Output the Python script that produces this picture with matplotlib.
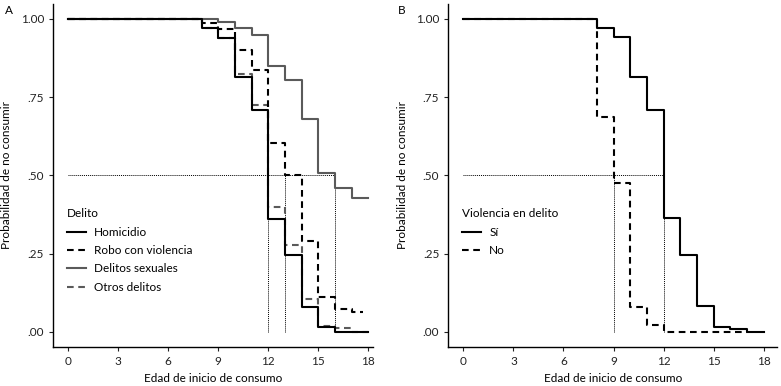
import numpy as np
import matplotlib.pyplot as plt

plt.rcParams['font.family'] = ['Lato', 'DejaVu Sans']

# Panel A: Delito
t_hom = [0, 8, 9, 10, 11, 12, 13, 14, 15, 16, 18]
s_hom = [1.0, 0.97, 0.94, 0.815, 0.708, 0.36, 0.245, 0.08, 0.016, 0.0, 0.0]
t_robo = [0, 8, 9, 10, 11, 12, 13, 14, 15, 16, 17, 17.7]
s_robo = [1.0, 0.988, 0.968, 0.90, 0.838, 0.605, 0.50, 0.292, 0.111, 0.072, 0.064, 0.064]
t_sex = [0, 9, 10, 11, 12, 13, 14, 15, 16, 17, 18]
s_sex = [1.0, 0.991, 0.972, 0.947, 0.851, 0.804, 0.68, 0.507, 0.461, 0.429, 0.429]
t_otros = [0, 8, 9, 10, 11, 12, 13, 14, 15, 16, 17, 18]
s_otros = [1.0, 0.97, 0.94, 0.825, 0.726, 0.40, 0.277, 0.105, 0.02, 0.013, 0.0, 0.0]
medians_a = [12, 13, 16]

# Panel B: Violencia en delito
t_si = [0, 8, 9, 10, 11, 12, 13, 14, 15, 16, 17, 18]
s_si = [1.0, 0.972, 0.941, 0.813, 0.708, 0.364, 0.245, 0.084, 0.017, 0.009, 0.0, 0.0]
t_no = [0, 8, 9, 10, 11, 12, 17]
s_no = [1.0, 0.688, 0.475, 0.079, 0.021, 0.0, 0.0]
medians_b = [9, 12]

xticks = [0, 3, 6, 9, 12, 15, 18]
yticks = [0, 0.25, 0.5, 0.75, 1.0]
ylabels = ['.00', '.25', '.50', '.75', '1.00']

GRAY = '#5a5a5a'
FS = 8.5

fig = plt.figure(figsize=(7.81, 3.86), dpi=100)
axA = fig.add_axes([0.068, 0.101, 0.41, 0.889])
axB = fig.add_axes([0.574, 0.101, 0.421, 0.889])


def style(ax, xmax):
    ax.set_xlim(-0.9, xmax)
    ax.set_ylim(-0.048, 1.048)
    ax.set_xticks(xticks)
    ax.set_yticks(yticks)
    ax.set_yticklabels(ylabels)
    for s in ['top', 'right']:
        ax.spines[s].set_visible(False)
    for s in ['left', 'bottom']:
        ax.spines[s].set_linewidth(1.0)
    ax.tick_params(labelsize=FS, length=3, width=0.8, colors='#222222')
    ax.set_xlabel('Edad de inicio de consumo', fontsize=FS, labelpad=4)
    ax.set_ylabel('Probabilidad de no consumir', fontsize=FS, labelpad=6)


def median_lines(ax, meds):
    ax.plot([0, max(meds)], [0.5, 0.5], color='black', lw=0.7, ls=(0, (1, 1)))
    for m in meds:
        ax.plot([m, m], [0, 0.5], color='black', lw=0.7, ls=(0, (1, 1)))


dash = (0, (3.2, 2.2))
leg_kw = dict(loc='upper left', bbox_to_anchor=(0.01, 0.435), frameon=False,
              fontsize=FS, title_fontsize=FS, alignment='left',
              handlelength=1.6, handletextpad=0.7, labelspacing=0.62)

# Panel A
style(axA, 18.3)
median_lines(axA, medians_a)
axA.step(t_sex, s_sex, where='post', color=GRAY, lw=1.5, label='Delitos sexuales')
axA.step(t_otros, s_otros, where='post', color=GRAY, lw=1.5, ls=dash, label='Otros delitos')
axA.step(t_hom, s_hom, where='post', color='black', lw=1.5, label='Homicidio')
axA.step(t_robo, s_robo, where='post', color='black', lw=1.5, ls=dash, label='Robo con violencia')
h, l = axA.get_legend_handles_labels()
order = [2, 3, 0, 1]
axA.legend([h[i] for i in order], [l[i] for i in order], title='Delito', **leg_kw)
fig.text(0.006, 0.965, 'A', fontsize=FS)

# Panel B
style(axB, 18.8)
median_lines(axB, medians_b)
axB.step(t_si, s_si, where='post', color='black', lw=1.5, label='Sí')
axB.step(t_no, s_no, where='post', color='black', lw=1.5, ls=dash, label='No')
axB.legend(title='Violencia en delito', **leg_kw)
fig.text(0.51, 0.965, 'B', fontsize=FS)

fig.savefig('out.png', dpi=100)
